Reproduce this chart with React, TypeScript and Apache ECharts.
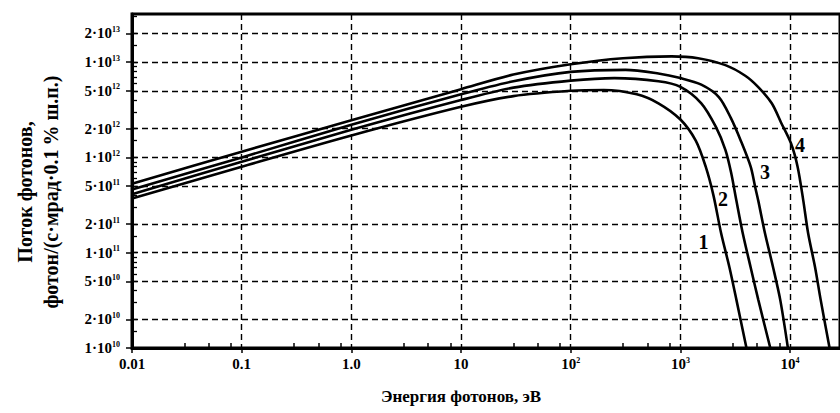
import React, { useEffect, useRef } from "react";
import * as echarts from "echarts";

// Photon energy (eV), photon flux pairs
const curve1: [number, number][] = [
  [0.01, 3.7e11], [0.1, 8.0e11], [1, 1.7e12], [10, 3.4e12], [30, 4.4e12],
  [100, 5.0e12], [200, 5.1e12], [400, 4.6e12], [630, 3.7e12], [1000, 2.5e12],
  [1380, 1.5e12], [1700, 8.0e11], [2000, 4.0e11], [2350, 1.6e11], [2800, 7.0e10],
  [3240, 3.2e10], [4000, 1.0e10],
];
const curve2: [number, number][] = [
  [0.01, 4.1e11], [0.1, 9.0e11], [1, 1.95e12], [10, 4.0e12], [30, 5.4e12],
  [100, 6.4e12], [250, 6.8e12], [630, 6.3e12], [1000, 5.5e12], [1550, 3.7e12],
  [2100, 2.1e12], [2570, 1.2e12], [2900, 6.9e11], [3240, 3.5e11], [3700, 1.6e11],
  [4370, 7.0e10], [5130, 3.2e10], [6600, 1.0e10],
];
const curve3: [number, number][] = [
  [0.01, 4.6e11], [0.1, 1.0e12], [1, 2.2e12], [10, 4.6e12], [30, 6.3e12],
  [100, 7.9e12], [316, 8.3e12], [630, 7.6e12], [1000, 6.8e12], [1550, 5.8e12],
  [2240, 4.3e12], [2880, 2.6e12], [3550, 1.5e12], [4370, 8.0e11], [4800, 4.9e11],
  [5130, 3.5e11], [5900, 1.6e11], [7000, 7.0e10], [8130, 3.2e10], [9550, 1.0e10],
];
const curve4: [number, number][] = [
  [0.01, 5.3e11], [0.1, 1.15e12], [1, 2.45e12], [10, 5.2e12], [30, 7.4e12],
  [100, 9.5e12], [300, 1.1e13], [830, 1.15e13], [1450, 1.1e13], [2570, 9.3e12],
  [3900, 7.2e12], [5100, 5.5e12], [6800, 3.7e12], [8300, 2.3e12], [10200, 1.4e12],
  [11700, 8.0e11], [13200, 3.5e11], [14600, 1.6e11], [16900, 7.0e10], [19000, 3.2e10],
  [22900, 1.0e10],
];
const curves = [curve1, curve2, curve3, curve4];
const curveNames = ["1", "2", "3", "4"];
const curveLabelPos: [number, number][] = [[1620, 1.3e11], [2450, 3.7e11], [5900, 7.0e11], [12300, 1.35e12]];

const xTicks = [0.01, 0.1, 1, 10, 100, 1000, 10000];
const xTickBase = ["0.01", "0.1", "1.0", "10", "10", "10", "10"];
const xTickExp = ["", "", "", "", "2", "3", "4"];
const xMinorMantissas = [3, 5, 8];

const yTickMantissa = [1, 2, 5, 1, 2, 5, 1, 2, 5, 1, 2];
const yTickExp = [10, 10, 10, 11, 11, 11, 12, 12, 12, 13, 13];
const yMinorMantissas = [1, 1.5, 2, 3, 4, 5, 6, 7, 8, 9];

const xMin = 0.01;
const xMax = 28500;
const yMin = 1e10;
const yMax = 3.2e13;

const xAxisTitle = "Энергия фотонов, эВ";
const yAxisTitleLine1 = "Поток фотонов,";
const yAxisTitleLine2 = "фотон/(с·мрад·0.1\u202F% ш.п.)";

const FONT = "Liberation Serif";

export default function App() {
  const ref = useRef<HTMLDivElement>(null);
  useEffect(() => {
    if (!ref.current) return;
    const chart = echarts.init(ref.current, undefined, { renderer: "svg" });
    const yTicks = yTickMantissa.map((m, i) => m * Math.pow(10, yTickExp[i]));
    const yMinor: number[] = [];
    for (let e = 10; e <= 13; e++) yMinorMantissas.forEach((m) => { const v = m * Math.pow(10, e); if (v <= yMax) yMinor.push(v); });
    const xMinor: number[] = [];
    for (let e = -2; e <= 4; e++) xMinorMantissas.forEach((m) => { const v = m * Math.pow(10, e); if (v <= xMax) xMinor.push(v); });
    const near = (a: number, b: number) => Math.abs(Math.log10(a) - Math.log10(b)) < 1e-4;
    const rich = {
      m: { fontFamily: FONT, fontWeight: "bold" as const, fontSize: 15, color: "#000", lineHeight: 16 },
      e: { fontFamily: FONT, fontWeight: "bold" as const, fontSize: 8, color: "#000", lineHeight: 9, verticalAlign: "top" as const },
    };
    const dash = [6, 4];
    chart.setOption({
      animation: false,
      backgroundColor: "#fff",
      textStyle: { fontFamily: FONT },
      grid: { left: 132, right: -3, top: 14, bottom: 65, show: true, borderColor: "#000", borderWidth: 3, containLabel: false },
      xAxis: [
        {
          type: "log", min: xMin, max: xMax,
          name: xAxisTitle, nameLocation: "middle", nameGap: 40,
          nameTextStyle: { fontFamily: FONT, fontWeight: "bold", fontSize: 17, color: "#000", padding: [0, 50, 0, 0] },
          axisLine: { show: true, lineStyle: { color: "#000", width: 3 } },
          axisTick: { show: true, length: 5, lineStyle: { color: "#000", width: 1.5 }, customValues: xTicks },
          splitLine: { show: true, lineStyle: { color: "#000", width: 1.4, type: dash } },
          axisLabel: {
            customValues: xTicks, margin: 8,
            formatter: (v: number) => {
              const i = xTicks.findIndex((t) => near(t, v));
              if (i < 0) return "";
              return xTickExp[i] ? `{m|${xTickBase[i]}}{e|${xTickExp[i]}}` : `{m|${xTickBase[i]}}`;
            },
            rich,
          },
        },
        {
          type: "log", min: xMin, max: xMax, position: "bottom",
          axisLine: { show: false }, axisLabel: { show: false }, splitLine: { show: false },
          axisTick: { show: true, inside: true, length: 5, lineStyle: { color: "#000", width: 1.5 }, customValues: xMinor },
        },
      ],
      yAxis: [
        {
          type: "log", min: yMin, max: yMax,
          name: `{a|${yAxisTitleLine1}}\n{b|${yAxisTitleLine2}}`, nameLocation: "middle", nameGap: 68, nameRotate: 90,
          nameTextStyle: {
            fontFamily: FONT, fontWeight: "bold", color: "#000", align: "center", padding: [0, 22, 0, 0],
            rich: {
              a: { fontFamily: FONT, fontWeight: "bold", fontSize: 20, color: "#000", lineHeight: 26 },
              b: { fontFamily: FONT, fontWeight: "bold", fontSize: 20, color: "#000", lineHeight: 26 },
            },
          },
          axisLine: { show: true, lineStyle: { color: "#000", width: 3 } },
          axisTick: { show: true, length: 6, lineStyle: { color: "#000", width: 1.5 }, customValues: yTicks },
          splitLine: { show: true, lineStyle: { color: "#000", width: 1.4, type: dash } },
          axisLabel: {
            customValues: yTicks, margin: 12,
            formatter: (v: number) => {
              const i = yTicks.findIndex((t) => near(t, v));
              if (i < 0) return "";
              return `{m|${yTickMantissa[i]}·10}{e|${yTickExp[i]}}`;
            },
            rich,
          },
        },
        {
          type: "log", min: yMin, max: yMax, position: "left",
          axisLine: { show: false }, axisLabel: { show: false }, splitLine: { show: false },
          axisTick: { show: true, inside: true, length: 5, lineStyle: { color: "#000", width: 1.3 }, customValues: yMinor },
        },
      ],
      series: [
        ...curves.map((c, i) => ({
          type: "line", name: curveNames[i], data: c, xAxisIndex: 0, yAxisIndex: 0,
          showSymbol: false, smooth: 0.3,
          lineStyle: { color: "#000", width: 2.6 }, silent: true,
        })),
        {
          type: "scatter", xAxisIndex: 0, yAxisIndex: 0, symbolSize: 0,
          itemStyle: { opacity: 1 },
          data: curveLabelPos.map((p, i) => ({ value: p, name: curveNames[i] })),
          label: { show: true, position: "inside", formatter: (p: any) => p.name, fontFamily: FONT, fontWeight: "bold", fontSize: 20, color: "#000", opacity: 1 },
        },
      ],
    });
    return () => chart.dispose();
  }, []);
  return <div ref={ref} style={{ position: "fixed", left: 0, top: 0, width: 840, height: 413, background: "#fff" }} />;
}
